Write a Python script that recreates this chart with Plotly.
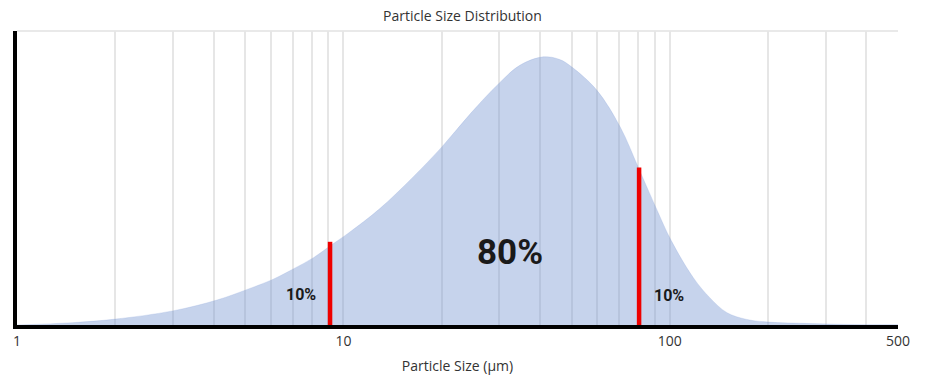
import numpy as np
import plotly.graph_objects as go

# Distribution curve (particle size in µm, relative frequency)
sizes = [1, 1.48, 2.0, 3.0, 4.1, 5.1, 6.1, 7.0, 8.1, 9.1, 10.4, 12.9, 16.3, 20, 24.5, 29.9, 34.8,
         40.9, 46, 50, 59.7, 70.5, 80.4, 90.6, 101, 118, 132.5, 149.6, 172, 200, 268, 350, 500]
freq = [0, 0.8, 2.0, 4.8, 8.5, 12.2, 15.6, 19.0, 22.9, 26.9, 31.4, 39.5, 50.2, 60.5, 71.9, 82.1, 88.4,
        91.2, 90.3, 87.8, 79.9, 67.3, 53.1, 40.0, 28.7, 16.1, 9.3, 4.2, 1.9, 1.0, 0.5, 0.2, 0.1]

# D10 / D90 markers
d_sizes = [9.1, 80.5]
d_heights = [28.3, 53.6]

# Region labels
label_text = ["10%", "80%", "10%"]
label_x = [7.4, 32.4, 99.5]
label_y = [10.3, 24.5, 10.0]
label_size = [16, 35, 16]

major_ticks = [1, 10, 100, 500]
major_labels = ["1", "10", "100", "500"]
minor_ticks = [2, 3, 4, 5, 6, 7, 8, 9, 20, 30, 40, 50, 60, 70, 80, 90, 200, 300, 400]

fill_col = "rgba(120,150,210,0.42)"

fig = go.Figure()

fig.add_trace(go.Scatter(
    x=sizes, y=freq, mode="lines",
    line=dict(width=0.5, shape="spline", smoothing=1.0, simplify=False, color=fill_col),
    fill="tozeroy", fillcolor=fill_col, hoverinfo="skip", showlegend=False,
))

for xs, h in zip(d_sizes, d_heights):
    fig.add_trace(go.Scatter(
        x=[xs, xs], y=[-0.8, h], mode="lines",
        line=dict(color="#ee0000", width=4.5), showlegend=False, hoverinfo="skip",
    ))

for t, lx, ly, s in zip(label_text, label_x, label_y, label_size):
    fig.add_annotation(x=np.log10(lx), y=ly, text="<b>%s</b>" % t, showarrow=False,
                       font=dict(family="Roboto", size=s, color="#1a1a1a"))

fig.update_layout(
    width=925, height=392,
    margin=dict(l=17, r=27, t=31, b=67),
    paper_bgcolor="white", plot_bgcolor="white",
    title=dict(text="Particle Size Distribution", x=0.5, xanchor="center", y=0.96, yanchor="middle",
               font=dict(family="Open Sans", size=14, color="#333333")),
    shapes=[
        dict(type="line", xref="paper", yref="paper", x0=0, x1=1, y0=1, y1=1,
             line=dict(color="#e2e2e2", width=1.5), layer="below"),
    ],
)

fig.update_xaxes(
    type="log", range=[0, np.log10(500)],
    tickvals=major_ticks, ticktext=major_labels, ticks="",
    tickfont=dict(family="Open Sans", size=14, color="#333333"),
    showgrid=True, gridcolor="#e6e6e6", gridwidth=1.5,
    minor=dict(tickvals=minor_ticks, showgrid=True, gridcolor="#e6e6e6", gridwidth=1.5, ticks=""),
    showline=True, linecolor="#000000", linewidth=3.5,
    title=dict(text="Particle Size (μm)", font=dict(family="Open Sans", size=14, color="#333333"), standoff=14),
    zeroline=False,
)
fig.update_yaxes(
    range=[0, 100], showticklabels=False, ticks="", showgrid=False, zeroline=False,
    showline=True, linecolor="#000000", linewidth=3.5,
)

fig.write_html("out.html")
